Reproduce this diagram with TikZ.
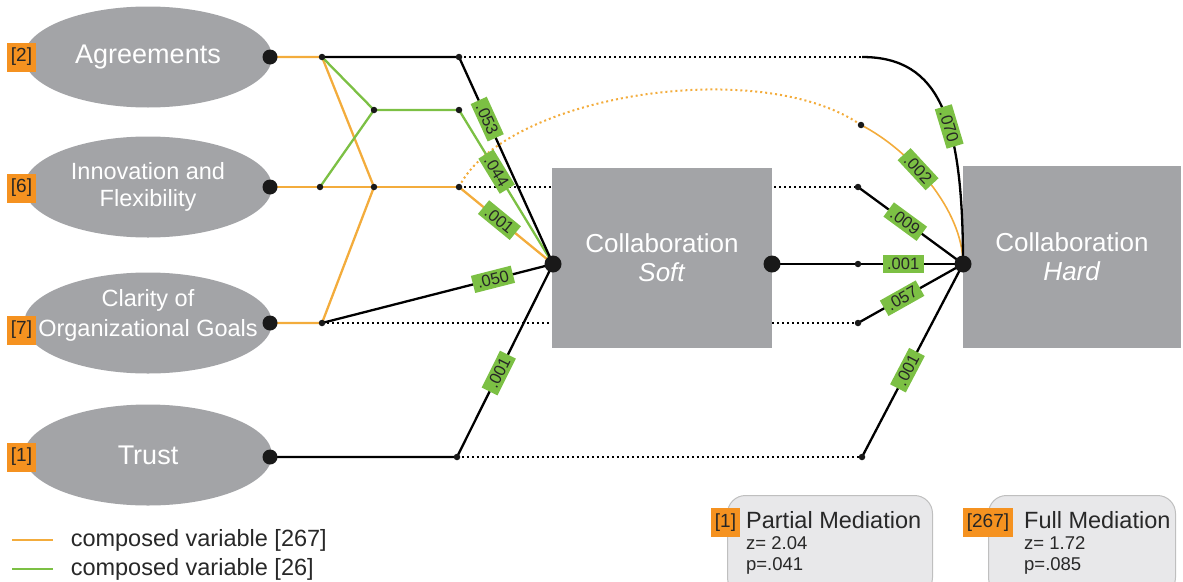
\documentclass[tikz,border=0pt]{standalone}
\usepackage{fontspec}
\setmainfont{Liberation Sans}
\usepackage{tikz}
\usetikzlibrary{calc, math, positioning, shapes.geometric, backgrounds}

\definecolor{shapegray}{RGB}{163,164,167}
\definecolor{taborange}{RGB}{245,146,32}
\definecolor{lineorange}{RGB}{243,172,60}
\definecolor{pathgreen}{RGB}{124,192,68}
\definecolor{notegray}{RGB}{232,232,234}
\definecolor{textgray}{RGB}{40,40,40}

\tikzset{
    latent/.style={ellipse, fill=shapegray, text=white, minimum width=248pt, minimum height=101pt, inner sep=0pt, align=center},
    construct/.style={rectangle, fill=shapegray, text=white, inner sep=0pt, align=center, font=\fontsize{26}{29}\selectfont},
    itemtag/.style={fill=taborange, text=black!85, inner xsep=3.5pt, inner ysep=0pt, minimum height=29pt, font=\fontsize{19}{19}\selectfont},
    bigdot/.style={circle, fill=black!90, inner sep=0pt, minimum size=17pt},
    smalldot/.style={circle, fill=black!90, inner sep=0pt, minimum size=6.5pt},
    coef/.style={fill=pathgreen, text=black!85, inner xsep=4.5pt, inner ysep=3pt, sloped, font=\fontsize{16.5}{16.5}\selectfont},
    orangeline/.style={draw=lineorange},
    greenline/.style={draw=pathgreen},
    dotline/.style={line width=2.5pt, dash pattern=on 2.4pt off 2.6pt},
    orangedots/.style={draw=lineorange, line width=2pt, dash pattern=on 2pt off 3pt},
    notebox/.style={rectangle, rounded corners=18pt, fill=notegray, draw=black!25, line width=1pt, anchor=north west},
    headtext/.style={text=textgray, inner sep=0pt, anchor=base west, font=\fontsize{23.5}{24}\selectfont},
    stattext/.style={text=textgray, inner sep=0pt, anchor=base west, font=\fontsize{18.5}{19}\selectfont},
    legendtext/.style={text=textgray, inner sep=0pt, font=\fontsize{23.5}{24}\selectfont},
}

\begin{document}
\begin{tikzpicture}[x=1pt, y=-1pt, line width=2.3pt, line join=round]
    \tikzmath{%
        \ellx=148; % centre of the ellipses
        \dotx=270; % output dots of the ellipses
    }
    \useasboundingbox (0,0) rectangle (1183,581);

    % latent variables
    \node [latent, font=\fontsize{27}{28}\selectfont] (agr) at (\ellx,57) {Agreements};
    \node [latent, font=\fontsize{23.5}{27}\selectfont] (inn) at (\ellx,187) {Innovation and\\Flexibility};
    \node [latent] (cla) at (\ellx,323) {};
    \node [text=white, align=center, font=\fontsize{23.5}{30}\selectfont] (claText) at ($(cla)+(0,-8)$) {Clarity of\\Organizational Goals};
    \node [latent, font=\fontsize{27}{28}\selectfont] (tru) at (\ellx,455) {Trust};
    \node [itemtag] (agrTag) at (21.5,57) {[2]};
    \node [itemtag] (innTag) at (21.5,188) {[6]};
    \node [itemtag] (claTag) at (21.5,330) {[7]};
    \node [itemtag] (truTag) at (21.5,457) {[1]};

    % collaboration
    \node [construct, minimum width=220pt, minimum height=180pt] (soft) at (662,258) {Collaboration\\\textit{Soft}};
    \node [construct, minimum width=218pt, minimum height=182pt] (hard) at (1072,257) {Collaboration\\\textit{Hard}};

    % junctions
    \coordinate (agrOut) at (\dotx,57);
    \coordinate (innOut) at (\dotx,187);
    \coordinate (claOut) at (\dotx,323);
    \coordinate (truOut) at (\dotx,457);
    \coordinate (a1) at (322,57);
    \coordinate (a2) at (459,57);
    \coordinate (a3) at (862,57);
    \coordinate (g1) at (374,110);
    \coordinate (g2) at (459,110);
    \coordinate (i1) at (320,187);
    \coordinate (i2) at (374,187);
    \coordinate (i3) at (459,187);
    \coordinate (i4) at (858,187);
    \coordinate (c1) at (322,323);
    \coordinate (c4) at (858,323);
    \coordinate (t1) at (457,457);
    \coordinate (t4) at (862,457);
    \coordinate (o4) at (861,125);
    \coordinate (sIn) at (553,264);
    \coordinate (sOut) at (772,264);
    \coordinate (m1) at (858,264);
    \coordinate (hIn) at (963,264);

    % indirect paths (behind the boxes)
    \begin{scope}[on background layer]
        \draw [dotline] (a2) -- (a3);
        \draw [dotline] (i3) -- (i4);
        \draw [dotline] (c1) -- (c4);
        \draw [dotline] (t1) -- (t4);
    \end{scope}

    % composed variable [267]
    \draw [orangedots] (i3) .. controls (505,95) and (760,55) .. (o4);
    \draw [orangeline] (agrOut) -- (a1) -- (i2);
    \draw [orangeline] (innOut) -- (i1) -- (i2) -- (i3);
    \draw [orangeline] (i2) -- (c1) -- (claOut);
    \draw [orangeline, line width=1.6pt] (o4) .. controls (910,150) and (963,210) .. node [coef, pos=0.4] {.002} (hIn);
    % composed variable [26]
    \draw [greenline] (i1) -- (g1) -- (a1);
    \draw [greenline] (g1) -- (g2) -- node [coef, pos=0.4] {.044} (sIn);
    \draw [orangeline] (i3) -- node [coef, pos=0.43] {.001} (sIn);
    % direct paths
    \draw (a1) -- (a2) -- node [coef, pos=0.3] {.053} (sIn);
    \draw (c1) -- node [coef, pos=0.74] {.050} (sIn);
    \draw (truOut) -- (t1) -- node [coef, pos=0.435] {.001} (sIn);
    \draw (sOut) -- (m1) -- node [coef, pos=0.43] {.001} (hIn);
    \draw (i4) -- node [coef, pos=0.45] {.009} (hIn);
    \draw (c4) -- node [coef, pos=0.42] {.057} (hIn);
    \draw (t4) -- node [coef, pos=0.45] {.001} (hIn);
    \draw (a3) .. controls (940,57) and (963,120) .. node [coef, pos=0.59] {.070} (hIn);

    % dots
    \foreach \p in {agrOut, innOut, claOut, truOut}
        \node [bigdot, minimum size=15pt] (\p-dot) at (\p) {};
    \foreach \p in {sIn, sOut, hIn}
        \node [bigdot] (\p-dot) at (\p) {};
    \foreach \p in {a1, a2, g1, g2, i1, i2, i3, i4, c1, c4, t1, t4, o4, m1}
        \node [smalldot] (\p-dot) at (\p) {};

    % legend
    \coordinate (legOa) at (12,540);
    \coordinate (legOb) at (53,540);
    \coordinate (legGa) at (12,569);
    \coordinate (legGb) at (53,569);
    \draw [orangeline, line width=1.5pt] (legOa) -- (legOb) node [legendtext, right=17pt] (legO) {composed variable [267]};
    \draw [greenline, line width=1.5pt] (legGa) -- (legGb) node [legendtext, right=17pt] (legG) {composed variable [26]};

    % mediation tests
    \node [notebox, minimum width=205pt, minimum height=100pt] (partial) at (727,495) {};
    \node [itemtag] (partialTag) at (725.5,522.5) {[1]};
    \node [headtext] (partialHead) at (745,528) {Partial Mediation};
    \node [stattext] (partialZ) at (745,549) {z= 2.04};
    \node [stattext] (partialP) at (745,570) {p=.041};
    \node [notebox, minimum width=187pt, minimum height=100pt] (full) at (988,495) {};
    \node [itemtag] (fullTag) at (988,522.5) {[267]};
    \node [headtext] (fullHead) at (1023,528) {Full Mediation};
    \node [stattext] (fullZ) at (1023,549) {z= 1.72};
    \node [stattext] (fullP) at (1023,570) {p=.085};
\end{tikzpicture}
\end{document}
